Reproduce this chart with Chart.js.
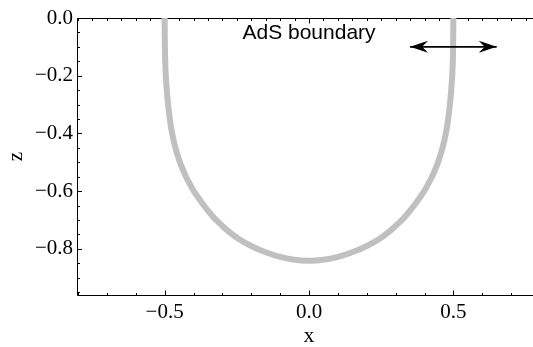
<!DOCTYPE html>
<html>
<head>
<meta charset="utf-8">
<script src="https://cdn.jsdelivr.net/npm/chart.js@4.4.1/dist/chart.umd.min.js"></script>
<style>
  html, body { margin: 0; padding: 0; background: #fff; }
  #wrap { width: 533px; height: 347px; overflow: hidden; }
  #inner { width: 560px; height: 347px; position: relative; }
</style>
</head>
<body>
<div id="wrap"><div id="inner"><canvas id="myChart"></canvas></div></div>
<script>
'use strict';
// string hanging down from the boundary: x and z of each point
let curveX = [-0.500, -0.499, -0.496, -0.488, -0.482, -0.474, -0.4625, -0.447, -0.437, -0.426, -0.413, -0.399, -0.382, -0.364, -0.344, -0.322, -0.283, -0.243, -0.200, -0.150, -0.100, -0.050, 0.000,
  0.050, 0.100, 0.150, 0.200, 0.243, 0.283, 0.322, 0.344, 0.364, 0.382, 0.399, 0.413, 0.426, 0.437, 0.447, 0.4625, 0.474, 0.482, 0.488, 0.496, 0.499, 0.500];
let curveZ = [0.000, -0.100, -0.200, -0.300, -0.350, -0.400, -0.450, -0.500, -0.525, -0.550, -0.575, -0.600, -0.625, -0.650, -0.675, -0.700, -0.736, -0.766, -0.790, -0.812, -0.828, -0.838, -0.841,
  -0.838, -0.828, -0.812, -0.790, -0.766, -0.736, -0.700, -0.675, -0.650, -0.625, -0.600, -0.575, -0.550, -0.525, -0.500, -0.450, -0.400, -0.350, -0.300, -0.200, -0.100, 0.000];

let arrowX = [0.35, 0.65];
let arrowZ = [-0.1, -0.1];

let labelText = 'AdS boundary';
let labelX = 0.0;
let labelZ = -0.072;

let xRange = [-0.8, 0.8];
let zRange = [-0.96, 0];
let xTicks = [-0.5, 0, 0.5];
let zTicks = [0, -0.2, -0.4, -0.6, -0.8];

const serif = '"Liberation Serif", "Times New Roman", serif';

function fmt(v) {
  return (v < 0 ? '\u2212' : '') + Math.abs(v).toFixed(1);
}

// minor tick positions
let bottomMinor = [];
for (let i = -8; i <= 8; i++) bottomMinor.push(i / 10);
let topMinor = [];
for (let i = -16; i <= 16; i++) topMinor.push(i / 20);
let leftMinor = [];
for (let i = -19; i <= 0; i++) leftMinor.push(i / 20);

const framePlugin = {
  id: 'frame',
  beforeDatasetsDraw(chart) {
    const ctx = chart.ctx;
    const a = chart.chartArea;
    const x = chart.scales.x;
    const y = chart.scales.y;
    const L = Math.floor(a.left) - 0.5;
    const T = Math.floor(a.top) + 0.5;
    const B = Math.floor(a.bottom) + 0.5;
    const R = Math.floor(a.right) + 0.5;
    ctx.save();
    ctx.strokeStyle = '#000';
    ctx.lineWidth = 1;
    ctx.beginPath();
    ctx.moveTo(L, T); ctx.lineTo(R, T); ctx.lineTo(R, B); ctx.lineTo(L, B); ctx.closePath();

    function vtick(v, y0, len) {
      const px = Math.round(x.getPixelForValue(v)) + 0.5;
      ctx.moveTo(px, y0); ctx.lineTo(px, y0 + len);
    }
    function htick(v, x0, len) {
      const py = Math.round(y.getPixelForValue(v)) + 0.5;
      ctx.moveTo(x0, py); ctx.lineTo(x0 + len, py);
    }
    bottomMinor.forEach(v => vtick(v, B, xTicks.includes(v) ? -5 : -2.5));
    topMinor.forEach(v => vtick(v, T, xTicks.includes(v) ? 5 : 2.5));
    leftMinor.forEach(v => htick(v, L, zTicks.some(t => Math.abs(t - v) < 1e-9) ? 4.5 : 2.5));
    leftMinor.forEach(v => htick(v, R, zTicks.some(t => Math.abs(t - v) < 1e-9) ? -4.5 : -2.5));
    ctx.stroke();
    ctx.restore();
  },
  afterDatasetsDraw(chart) {
    const ctx = chart.ctx;
    const x = chart.scales.x;
    const y = chart.scales.y;
    ctx.save();
    // arrow heads at both ends
    ctx.fillStyle = '#000';
    const len = 18, half = 6, notch = 12;
    for (let i = 0; i < arrowX.length; i++) {
      const tx = x.getPixelForValue(arrowX[i]);
      const ty = y.getPixelForValue(arrowZ[i]);
      const dir = i === 0 ? 1 : -1;
      ctx.beginPath();
      ctx.moveTo(tx, ty);
      ctx.lineTo(tx + dir * len, ty - half);
      ctx.lineTo(tx + dir * notch, ty);
      ctx.lineTo(tx + dir * len, ty + half);
      ctx.closePath();
      ctx.fill();
    }
    // boundary label
    ctx.font = '21px "Liberation Sans", Arial, sans-serif';
    ctx.textAlign = 'center';
    ctx.textBaseline = 'alphabetic';
    ctx.fillText(labelText, x.getPixelForValue(labelX), y.getPixelForValue(labelZ));
    ctx.restore();
  }
};

let curvePoints = curveX.map((v, i) => ({ x: v, y: curveZ[i] }));
let arrowPoints = arrowX.map((v, i) => ({ x: v, y: arrowZ[i] }));

const ctx = document.getElementById('myChart').getContext('2d');
const myChart = new Chart(ctx, {
  type: 'scatter',
  data: {
    datasets: [{
      label: 'boundary',
      data: arrowPoints,
      showLine: true,
      borderColor: '#000',
      borderWidth: 1.6,
      pointRadius: 0,
      order: 0
    }, {
      label: 'string',
      data: curvePoints,
      showLine: true,
      borderColor: '#c0c0c0',
      borderWidth: 6,
      borderCapStyle: 'square',
      tension: 0.4,
      pointRadius: 0,
      order: 1
    }]
  },
  options: {
    responsive: true,
    maintainAspectRatio: false,
    animation: false,
    layout: { padding: { top: 18, right: 20, left: 0, bottom: 0 } },
    plugins: { legend: { display: false }, tooltip: { enabled: false } },
    scales: {
      x: {
        type: 'linear',
        min: xRange[0],
        max: xRange[1],
        grid: { display: false, drawTicks: false },
        border: { display: false },
        afterBuildTicks: s => { s.ticks = xTicks.map(v => ({ value: v })); },
        afterFit: s => { s.height = 52; },
        ticks: { padding: 5, maxRotation: 0, color: '#000', font: { family: serif, size: 21 }, callback: v => fmt(v) },
        title: { display: true, text: 'x', color: '#000', font: { family: serif, size: 21, lineHeight: 1 }, padding: 0 }
      },
      y: {
        type: 'linear',
        min: zRange[0],
        max: zRange[1],
        grid: { display: false, drawTicks: false },
        border: { display: false },
        afterBuildTicks: s => { s.ticks = zTicks.map(v => ({ value: v })); },
        afterFit: s => { s.width = 78; },
        ticks: { padding: 5, color: '#000', font: { family: serif, size: 21 }, callback: v => fmt(v) },
        title: { display: true, text: 'z', color: '#000', font: { family: serif, size: 21, lineHeight: 1 }, padding: { top: 6 } }
      }
    }
  },
  plugins: [framePlugin]
});
</script>
</body>
</html>
